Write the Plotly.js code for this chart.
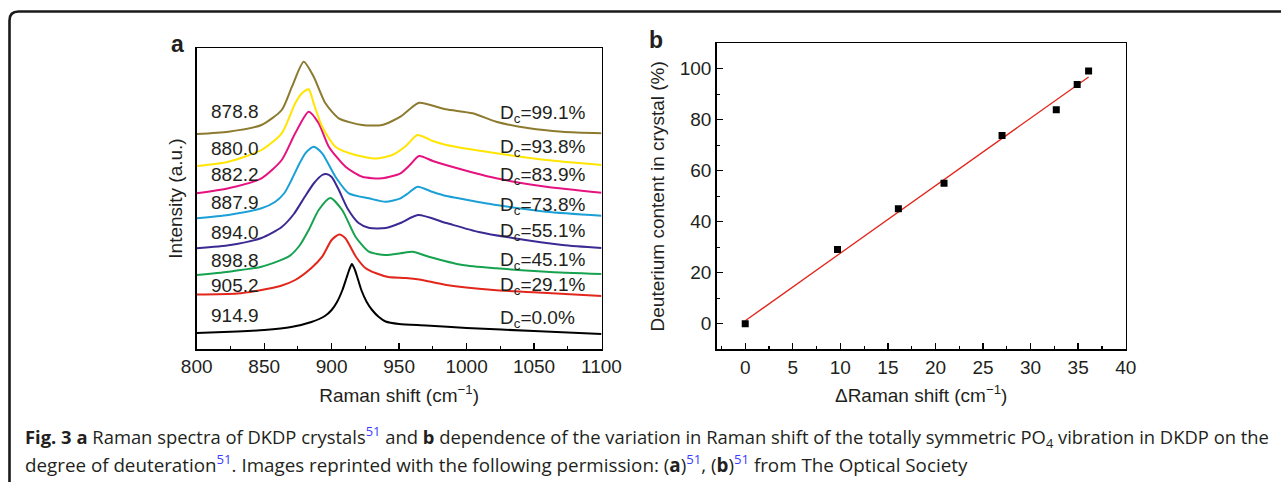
<!DOCTYPE html>
<html>
<head>
<meta charset="utf-8">
<script src="https://cdn.plot.ly/plotly-3.0.1.min.js"></script>
<style>
html,body{margin:0;padding:0;background:#fff;}
#chart{width:1281px;height:485px;}
</style>
</head>
<body>
<div id="chart"></div>
<script>
// ---------- Panel a: Raman spectra (offset intensity, a.u.) ----------
const x_Dc0   = [800,830,850,870,885,895,900,904,908,911,913,915,917,919,922,926,930,935,940,950,970,1000,1050,1100];
const y_Dc0   = [16,17.5,19,22,27,33,39,47,59,71,79,85,80,72,59,47,39,32,27.5,25,23.5,21,18,15];

const x_Dc29  = [800,830,848,862,873,885,893,900,905.5,910,918,925,933,942,955,965,985,1020,1060,1100];
const y_Dc29  = [54.5,55.5,59,63,69,81,92.3,109,114.5,111,92.3,81,75.7,72,71,69.5,64,59,56,53];

const x_Dc45  = [800,823.5,848,868,876,883,890.4,899,907.8,917.7,927.6,940,951,960,972,997,1022,1059,1100];
const y_Dc45  = [74,77.3,82.3,92.3,103,119,139,151,139,112.3,97.3,94,95.7,97.3,92.3,84,80.7,77.3,75];

const x_Dc55  = [800,825,848,863,872,880,887,893,896,900,905,912,920,928,940,951,964,985,1009,1034,1071,1100];
const y_Dc55  = [100.7,104,111,122,135,152,166,174,175,172,160,140,126,121,121,126,134,126,117,111,104,101];

const x_Dc74  = [800,823.5,848,858,865,870.6,876,880.5,886.7,893,902.8,912.7,927.6,940,951,957,963.6,975,985,997,1022,1059,1100];
const y_Dc74  = [130.7,134,140.7,147,156,170,185,195.7,202.3,195.7,172.3,155.7,150.7,147.3,150.7,156,162.3,157,153,150,144,137.3,133.3];

const x_Dc84  = [800,823.5,848,863,873,883,890.4,897.9,910.3,922.7,937.5,951,958,964.8,975,984.6,1022,1059,1100];
const y_Dc84  = [155.7,160.7,170.7,189,215.7,237.3,225.7,202.3,182.3,172.3,170.7,175.7,184,193,188,184,170.7,162.3,156.3];

const x_Dc94  = [800,823.5,848,863,873,878,883,886.7,893,902.8,917.7,932.6,945,955,963.6,975,985,1022,1059,1100];
const y_Dc94  = [183,187.3,199,215.7,245.7,255.7,259.7,245.7,222.3,202.3,194,190.5,194,203,214,208,204,195.7,189,184];

const x_Dc99  = [800,823.5,848,863,870.6,879.3,886.7,895.4,905.3,922.7,937.5,951,958,964.8,984.6,1004.5,1022,1046.5,1071,1100];
const y_Dc99  = [215,217.3,224,239,262.3,287.3,272.3,245.7,230.7,224,224,232.3,240,246.3,239.7,235.7,227.3,220.7,217.3,215.7];

const peakLabels = ["914.9","905.2","898.8","894.0","887.9","882.2","880.0","878.8"];
const dcLabels   = ["0.0","29.1","45.1","55.1","73.8","83.9","93.8","99.1"];

// ---------- Panel b: deuterium content vs. Raman shift variation ----------
const dShift   = [0, 9.7, 16.1, 20.9, 27.0, 32.7, 34.9, 36.1];
const dContent = [0, 29.1, 45.1, 55.1, 73.8, 83.9, 93.8, 99.1];
const fitX = [0, 36.1];
const fitY = [1.2, 96.8];

// ---------- styling ----------
const specColors = ["#000000","#e2261c","#17a24f","#3b2a93","#1aa0d6","#e5127f","#ffe500","#8c7a2e"];
const specX = [x_Dc0,x_Dc29,x_Dc45,x_Dc55,x_Dc74,x_Dc84,x_Dc94,x_Dc99];
const specY = [y_Dc0,y_Dc29,y_Dc45,y_Dc55,y_Dc74,y_Dc84,y_Dc94,y_Dc99];
const leftLabelY  = [34,63.3,88.3,116.7,146.7,175,200.7,238];
const rightLabelY = [33.2,65.7,91.5,120,146.5,175.7,204,238];

const FONT = "Liberation Sans, Arial, Helvetica, sans-serif";
const TXT = "#231f20";
const FS = 19;

const traces = specX.map((xs,i)=>({
  type:"scatter", mode:"lines", x:xs, y:specY[i], xaxis:"x", yaxis:"y",
  line:{color:specColors[i], width:2, shape:"spline", smoothing:0.65},
  hoverinfo:"skip", showlegend:false
}));
traces.push({
  type:"scatter", mode:"lines", x:fitX, y:fitY, xaxis:"x2", yaxis:"y2",
  line:{color:"#e2261c", width:1.3}, showlegend:false, hoverinfo:"skip"
});
traces.push({
  type:"scatter", mode:"markers", x:dShift, y:dContent, xaxis:"x2", yaxis:"y2",
  marker:{symbol:"square", size:7, color:"#000"}, showlegend:false, hoverinfo:"skip"
});

const annotations = [];
peakLabels.forEach((t,i)=>{
  annotations.push({xref:"x", yref:"y", x:809, y:leftLabelY[i], text:t, showarrow:false,
    xanchor:"left", yanchor:"middle", font:{family:FONT, size:FS, color:TXT}});
});
dcLabels.forEach((t,i)=>{
  annotations.push({xref:"x", yref:"y", x:1023, y:rightLabelY[i], text:"D<sub>c</sub>="+t+"%", showarrow:false,
    xanchor:"left", yanchor:"middle", yshift:-3, font:{family:FONT, size:FS, color:TXT}});
});
// panel letters
annotations.push({xref:"paper", yref:"paper", x:169/1281, y:1-44/485, text:"<b>a</b>", showarrow:false,
  xanchor:"left", yanchor:"middle", font:{family:FONT, size:23, color:TXT}});
annotations.push({xref:"paper", yref:"paper", x:647/1281, y:1-40/485, text:"<b>b</b>", showarrow:false,
  xanchor:"left", yanchor:"middle", font:{family:FONT, size:23, color:TXT}});
// caption
const CAP = "Open Sans, Noto Sans, sans-serif";
const blue = (s)=>'<span style="color:#3b3bff">'+s+'</span>';
annotations.push({xref:"paper", yref:"paper", x:23/1281, y:1-437/485, xanchor:"left", yanchor:"middle", showarrow:false,
  text:"<b>Fig. 3 a</b> Raman spectra of DKDP crystals<sup>"+blue("51")+"</sup> and <b>b</b> dependence of the variation in Raman shift of the totally symmetric PO<sub>4</sub> vibration in DKDP on the",
  font:{family:CAP, size:18.4, color:TXT}});
annotations.push({xref:"paper", yref:"paper", x:23/1281, y:1-464/485, xanchor:"left", yanchor:"middle", showarrow:false,
  text:"degree of deuteration<sup>"+blue("51")+"</sup>. Images reprinted with the following permission: (<b>a</b>)<sup>"+blue("51")+"</sup>, (<b>b</b>)<sup>"+blue("51")+"</sup> from The Optical Society",
  font:{family:CAP, size:18.8, color:TXT}});

// rounded frame (paper coords)
const px = v=>v/1281, py = v=>1-v/485;
const L=9.5, T=11.5, R=1295, B=482, r=9;
const framePath = `M ${px(L)},${py(B)} L ${px(L)},${py(T+r)} Q ${px(L)},${py(T)} ${px(L+r)},${py(T)} L ${px(R)},${py(T)} L ${px(R)},${py(B)}`;

const axisCommon = {showline:true, linecolor:"#000", linewidth:1.5, mirror:true, showgrid:false, zeroline:false,
  tickfont:{family:FONT, size:FS, color:TXT}, ticks:"inside", tickcolor:"#000", tickwidth:1.3, ticklen:6};

const layout = {
  width:1281, height:485, margin:{l:0,r:0,t:0,b:0},
  paper_bgcolor:"#fff", plot_bgcolor:"#fff", showlegend:false,
  font:{family:FONT, color:TXT},
  xaxis:Object.assign({}, axisCommon, {domain:[196.7/1281, 601.5/1281], anchor:"y", range:[800,1100], dtick:50,
    minor:{dtick:25, ticks:"inside", ticklen:3, tickcolor:"#000", tickwidth:1.2},
    title:{text:"Raman shift (cm<sup>−1</sup>)", font:{family:FONT, size:FS, color:TXT}, standoff:12}}),
  yaxis:Object.assign({}, axisCommon, {domain:[1-349/485, 1-48/485], anchor:"x", range:[0,301], ticks:"", showticklabels:false,
    title:{text:"Intensity (a.u.)", font:{family:FONT, size:FS, color:TXT}, standoff:7}}),
  xaxis2:Object.assign({}, axisCommon, {domain:[716.7/1281, 1125.7/1281], anchor:"y2", range:[-3,40], tick0:0, dtick:5,
    minor:{dtick:2.5, tick0:0, ticks:"inside", ticklen:3, tickcolor:"#000", tickwidth:1.2},
    title:{text:"ΔRaman shift (cm<sup>−1</sup>)", font:{family:FONT, size:FS, color:TXT}, standoff:12}}),
  yaxis2:Object.assign({}, axisCommon, {domain:[1-349.3/485, 1-43.3/485], anchor:"x2", range:[-10,110], tick0:0, dtick:20,
    minor:{dtick:10, tick0:0, ticks:"inside", ticklen:3, tickcolor:"#000", tickwidth:1.2},
    title:{text:"Deuterium content in crystal (%)", font:{family:FONT, size:FS, color:TXT}, standoff:10}}),
  annotations:annotations,
  shapes:[{type:"path", xref:"paper", yref:"paper", path:framePath, line:{color:"#1a1a1a", width:2.6}}]
};

Plotly.newPlot("chart", traces, layout, {displayModeBar:false, staticPlot:true});
</script>
</body>
</html>
